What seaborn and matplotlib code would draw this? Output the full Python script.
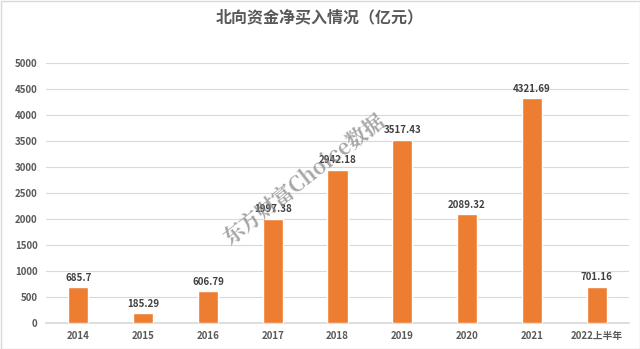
import matplotlib
matplotlib.use("Agg")
import matplotlib.pyplot as plt
import seaborn as sns
import pandas as pd
from matplotlib.patches import Rectangle

years = ["2014", "2015", "2016", "2017", "2018", "2019", "2020", "2021", "2022上半年"]
values = [685.7, 185.29, 606.79, 1997.38, 2942.18, 3517.43, 2089.32, 4321.69, 701.16]
labels = ["685.7", "185.29", "606.79", "1997.38", "2942.18", "3517.43", "2089.32", "4321.69", "701.16"]
yticks = [0, 500, 1000, 1500, 2000, 2500, 3000, 3500, 4000, 4500, 5000]

sns.set_theme(style="white")
plt.rcParams['font.family'] = ['Noto Sans CJK SC', 'DejaVu Sans']

df = pd.DataFrame({"year": years, "value": values})
fig = plt.figure(figsize=(6.4, 3.49), dpi=100)
ax = fig.add_axes([46/640, (349-323)/349, (629-46)/640, 260/349])

sns.barplot(data=df, x="year", y="value", color="#ED7D31", width=0.31, ax=ax,
            saturation=1, zorder=3)

ax.set_ylim(0, 5000)
ax.set_yticks(yticks)
ax.set_yticklabels([str(t) for t in yticks], fontsize=7, fontweight="bold", color="#595959")
ax.set_xticklabels(years, fontsize=7, fontweight="bold", color="#595959")
ax.grid(axis="y", color="#d9d9d9", linewidth=0.8, zorder=0)
ax.set_axisbelow(True)
for s in ["top", "right", "left"]:
    ax.spines[s].set_visible(False)
ax.spines["bottom"].set_color("#d9d9d9")
ax.tick_params(axis="both", length=0, pad=6)
ax.set_xlabel("")
ax.set_ylabel("")
ax.set_xlim(-0.5, len(years) - 0.5)

for i, (v, lab) in enumerate(zip(values, labels)):
    ax.text(i, v + 90, lab, ha="center", va="bottom", fontsize=7, fontweight="bold", color="#404040", zorder=4)

fig.text(320/640, 1 - 17/349, "北向资金净买入情况（亿元）", ha="center", va="center",
         fontsize=11.5, fontweight="bold", color="#595959")

fig.text(305/640, 1 - 180/349, "东方财富Choice数据", ha="center", va="center",
         fontsize=15, fontweight="bold", color="#808080", alpha=0.7, rotation=38,
         family=["Noto Serif CJK SC", "Noto Sans CJK SC", "DejaVu Serif"], style="italic", zorder=10)

fig.patches.append(Rectangle((0.5/640, 0.5/349), 1 - 1/640, 1 - 1/349, transform=fig.transFigure,
                             fill=False, edgecolor="#d9d9d9", linewidth=1))

fig.savefig("out.png", dpi=100)
